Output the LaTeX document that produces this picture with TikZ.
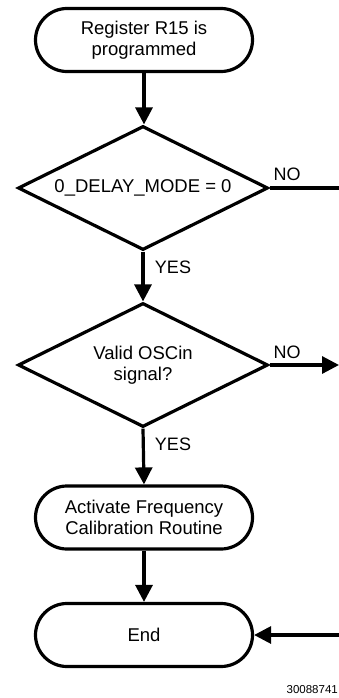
\documentclass[tikz,border=0pt]{standalone}
\usepackage{fontspec}
\setmainfont{Liberation Sans}
\usetikzlibrary{shapes.geometric,arrows.meta}
\begin{document}
\begin{tikzpicture}[x=1pt,y=-1pt,
  term/.style={draw,line width=3.2pt,rounded corners=31.5pt,minimum width=217pt,minimum height=63pt,align=center,inner sep=0pt,font=\fontsize{18.5}{21.5}\selectfont},
  dec/.style={draw,diamond,line width=3.2pt,minimum width=250pt,minimum height=124pt,aspect=2,inner sep=0pt,align=center,font=\fontsize{18.5}{21.5}\selectfont},
  lbl/.style={inner sep=0pt,font=\fontsize{18}{21}\selectfont},
  flow/.style={line width=3.2pt,-{Triangle[length=17pt,width=17pt]}},
  plain/.style={line width=3.2pt}]
\useasboundingbox (0,0) rectangle (339,698);
\node[term] (start) at (144,40) {Register R15 is\\programmed};
\node[dec] (d1) at (143,188) {0\_DELAY\_MODE = 0};
\node[dec] (d2) at (143,365) {Valid OSCin\\signal?};
\node[term] (act) at (144,517.5) {Activate Frequency\\Calibration Routine};
\node[term] (end) at (144,635) {End};
\coordinate (o1) at (339,188);
\coordinate (o2) at (339,365);
\coordinate (i1) at (339,635);
\node[lbl] (no1) at (287,174) {NO};
\node[lbl] (yes1) at (173,267) {YES};
\node[lbl] (no2) at (287,352) {NO};
\node[lbl] (yes2) at (173,444) {YES};
\node[anchor=east,inner sep=0pt,font=\fontsize{11.5}{14}\selectfont] (fig) at (338,690) {30088741};
\draw[flow] (start.south) -- (start.south |- d1.north);
\draw[plain] (d1.east) -- (o1);
\draw[flow] (d1.south) -- (d2.north);
\draw[flow] (d2.east) -- (o2);
\draw[flow] (d2.south) -- (act.north);
\draw[flow] (act.south) -- (end.north);
\draw[flow] (i1) -- (end.east);
\end{tikzpicture}
\end{document}
